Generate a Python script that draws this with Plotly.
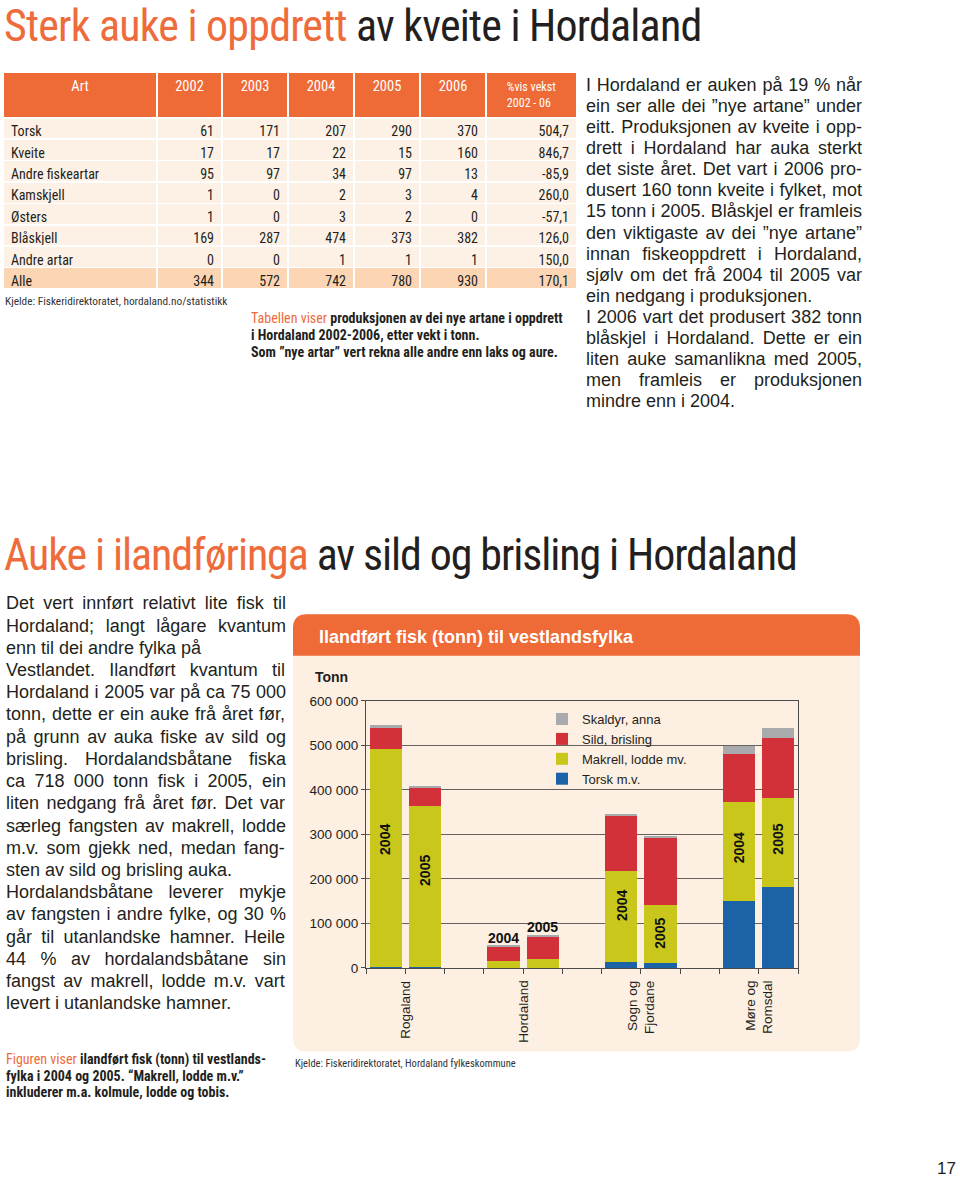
import plotly.graph_objects as go

W, H = 960, 1185
ORANGE = "#EE6A36"
TXT = "#231F20"
BODY = "Liberation Sans, Arial, Helvetica, sans-serif"
NARROW = "Roboto Condensed, Open Sans Condensed, DejaVu Sans Condensed, sans-serif"

# ---------------- table data ----------------
arter = ["Torsk", "Kveite", "Andre fiskeartar", "Kamskjell", "Østers",
         "Blåskjell", "Andre artar", "Alle"]
aar_tabell = ["2002", "2003", "2004", "2005", "2006"]
v2002 = [61, 17, 95, 1, 1, 169, 0, 344]
v2003 = [171, 17, 97, 0, 0, 287, 0, 572]
v2004 = [207, 22, 34, 2, 3, 474, 1, 742]
v2005 = [290, 15, 97, 3, 2, 373, 1, 780]
v2006 = [370, 160, 13, 4, 0, 382, 1, 930]
vekst = [504.7, 846.7, -85.9, 260.0, -57.1, 126.0, 150.0, 170.1]

# ---------------- chart data (tonn) ----------------
fylke = ["Rogaland", "Hordaland", "Sogn og<br>Fjordane", "Møre og<br>Romsdal"]
aar = ["2004", "2005"]
torsk = [3000, 2000, 1000, 1000, 15000, 12000, 150000, 183000]
makrell = [490000, 362000, 15000, 19000, 203000, 129000, 223000, 200000]
sild = [48000, 41000, 33000, 52000, 125000, 152000, 108000, 135000]
skaldyr = [4000, 3000, 3000, 3000, 4000, 3000, 19000, 21000]
y_ticks = [0, 100000, 200000, 300000, 400000, 500000, 600000]


def px(x):
    return x / W


def py(y):
    return 1 - y / H


# Arial / Liberation Sans advance widths (1/1000 em) for justification
AW = {" ": 278, "!": 278, '"': 355, "%": 889, "(": 333, ")": 333, ",": 278, "-": 333,
      ".": 278, ":": 278, ";": 278, "”": 333, "“": 333,
      "A": 667, "B": 667, "C": 722, "D": 722, "E": 667, "F": 611, "G": 778, "H": 722,
      "I": 278, "J": 500, "K": 667, "L": 556, "M": 833, "N": 722, "O": 778, "P": 667,
      "Q": 778, "R": 722, "S": 667, "T": 611, "U": 722, "V": 667, "W": 944, "X": 667,
      "Y": 667, "Z": 611, "Ø": 778, "Å": 667, "Æ": 1000,
      "a": 556, "b": 556, "c": 500, "d": 556, "e": 556, "f": 278, "g": 556, "h": 556,
      "i": 222, "j": 222, "k": 500, "l": 222, "m": 833, "n": 556, "o": 556, "p": 556,
      "q": 556, "r": 333, "s": 500, "t": 278, "u": 556, "v": 500, "w": 722, "x": 500,
      "y": 500, "z": 500, "å": 556, "ø": 611, "æ": 889}
for d in "0123456789":
    AW[d] = 556


def justify(s, size, target):
    nat = sum(AW.get(c, 556) for c in s) / 1000 * size
    n = s.count(" ")
    if n == 0:
        return s
    ws = (target - nat) / n
    return f'<span style="word-spacing:{ws:.2f}px">{s}</span>'


fig = go.Figure()

# ---------------- table ----------------
fmt = lambda v: f"{v:.1f}".replace(".", ",")
row_fill = ["#FDF1E6"] * 7 + ["#FBD5B4"]
fig.add_trace(go.Table(
    domain=dict(x=[px(3), px(577)], y=[py(292), py(66)]),
    columnwidth=[154, 65, 66, 66, 66, 66, 91],
    header=dict(
        values=["Art"] + aar_tabell + ["%vis vekst<br>2002 - 06"],
        fill_color=ORANGE, line=dict(color="white", width=1.5),
        align="center", height=40,
        font=dict(family=NARROW, size=[14.5] * 6 + [12], color="white")),
    cells=dict(
        values=[arter, v2002, v2003, v2004, v2005, v2006, [fmt(v) for v in vekst]],
        fill_color=[row_fill] * 7, line=dict(color="white", width=1.5),
        align=["left"] + ["right"] * 6, height=21.4,
        font=dict(family=NARROW, size=14, color=TXT)),
))

# ---------------- bars ----------------
positions = [3 * i + j for i in range(len(fylke)) for j in range(len(aar))]
labels = [f"{f.replace('<br>', ' ')} {a}" for f in fylke for a in aar]
series = [
    ("Torsk m.v.", torsk, "#1B62A7"),
    ("Makrell, lodde mv.", makrell, "#C9C71C"),
    ("Sild, brisling", sild, "#D3313A"),
    ("Skaldyr, anna", skaldyr, "#A8AAAD"),
]
for name, vals, col in series:
    fig.add_trace(go.Bar(
        x=positions, y=vals, name=name, width=0.82,
        marker=dict(color=col, line=dict(width=0)),
        customdata=labels,
        hovertemplate="%{customdata}<br>" + name + ": %{y:,}<extra></extra>",
    ))

ann = []


def line(x, y, text, size, color=TXT, family=BODY, xanchor="left", yanchor="middle"):
    ann.append(dict(x=px(x), y=py(y), xref="paper", yref="paper", text=text,
                    showarrow=False, xanchor=xanchor, yanchor=yanchor,
                    font=dict(size=size, color=color, family=family)))


OR = '<span style="color:#EE6B3B">'

# titles
line(2, 19, '<span style="letter-spacing:-0.8px">' + OR +
     "Sterk auke i oppdrett</span> av kveite i Hordaland</span>", 44, "#231F20", NARROW)
line(2, 555, '<span style="letter-spacing:-1.1px">' + OR +
     "Auke i ilandføringa</span> av sild og brisling i Hordaland</span>", 44, "#231F20", NARROW)

# table source + caption
line(3, 298, "Kjelde: Fiskeridirektoratet, hordaland.no/statistikk", 11.3, "#333333", NARROW)
cap1 = [OR + "Tabellen viser</span> <b>produksjonen av dei nye artane i oppdrett</b>",
        "<b>i Hordaland 2002-2006, etter vekt i tonn.</b>",
        "<b>Som ”nye artar” vert rekna alle andre enn laks og aure.</b>"]
for k, t in enumerate(cap1):
    line(249, 315 + 17 * k, t, 14, TXT, NARROW)

# right text block (justified)
right_lines = [
    "I Hordaland er auken på 19 % når",
    "ein ser alle dei ”nye artane” under",
    "eitt. Produksjonen av kveite i opp-",
    "drett i Hordaland har auka sterkt",
    "det siste året. Det vart i 2006 pro-",
    "dusert 160 tonn kveite i fylket, mot",
    "15 tonn i 2005. Blåskjel er framleis",
    "den viktigaste av dei ”nye artane”",
    "innan fiskeoppdrett i Hordaland,",
    "sjølv om det frå 2004 til 2005 var",
    "ein nedgang i produksjonen.",
    "I 2006 vart det produsert 382 tonn",
    "blåskjel i Hordaland. Dette er ein",
    "liten auke samanlikna med 2005,",
    "men framleis er produksjonen",
    "mindre enn i 2004.",
]
right_ragged = {10, 15}
for k, t in enumerate(right_lines):
    txt = t if k in right_ragged else justify(t, 18, 860 - 584)
    line(584, 79 + 21.35 * k, txt, 18)

# left text block (justified)
left_lines = [
    "Det vert innført relativt lite fisk til",
    "Hordaland; langt lågare kvantum",
    "enn til dei andre fylka på",
    "Vestlandet. Ilandført kvantum til",
    "Hordaland i 2005 var på ca 75 000",
    "tonn, dette er ein auke frå året før,",
    "på grunn av auka fiske av sild og",
    "brisling. Hordalandsbåtane fiska",
    "ca 718 000 tonn fisk i 2005, ein",
    "liten nedgang frå året før. Det var",
    "særleg fangsten av makrell, lodde",
    "m.v. som gjekk ned, medan fang-",
    "sten av sild og brisling auka.",
    "Hordalandsbåtane leverer mykje",
    "av fangsten i andre fylke, og 30 %",
    "går til utanlandske hamner. Heile",
    "44 % av hordalandsbåtane sin",
    "fangst av makrell, lodde m.v. vart",
    "levert i utanlandske hamner.",
]
left_ragged = {2, 12, 18}
for k, t in enumerate(left_lines):
    txt = t if k in left_ragged else justify(t, 18, 284 - 4)
    line(4, 604 + 22.5 * k, txt, 18)

# figure caption + source
cap2 = [OR + "Figuren viser</span> <b>ilandført fisk (tonn) til vestlands-</b>",
        "<b>fylka i 2004 og 2005. “Makrell, lodde m.v.”</b>",
        "<b>inkluderer m.a. kolmule, lodde og tobis.</b>"]
for k, t in enumerate(cap2):
    line(4, 1066 + 16.5 * k, t, 14, TXT, NARROW)
line(293, 1070, "Kjelde: Fiskeridirektoratet, Hordaland fylkeskommune", 10.5, "#333333", NARROW)
line(958, 1176, "17", 17, TXT, BODY, xanchor="right")

# chart panel texts
line(317, 638, "<b>Ilandført fisk (tonn) til vestlandsfylka</b>", 18, "white")
line(313, 679, "<b>Tonn</b>", 14)

# year labels on bars
year_label_y = [289000, 220000, 68000, 92000, 140000, 78000, 269000, 289000]
for idx, (p, yy) in enumerate(zip(positions, year_label_y)):
    region = idx // 2
    rotated = region != 1
    ann.append(dict(x=p, y=yy, xref="x", yref="y", text="<b>" + aar[idx % 2] + "</b>",
                    showarrow=False, textangle=-90 if rotated else 0,
                    font=dict(size=14, color="#111111", family=BODY)))

# category labels
for i, f in enumerate(fylke):
    ann.append(dict(x=3 * i + 0.5, y=py(984), xref="x", yref="paper", text=f,
                    showarrow=False, textangle=-90, xanchor="center", yanchor="top",
                    align="right", font=dict(size=13.5, color=TXT, family=BODY)))


def rrect(x0, y0, x1, y1, r, bottom_round=True):
    P = lambda x, y: f"{px(x):.5f},{py(y):.5f}"
    d = f"M{P(x0 + r, y0)} L{P(x1 - r, y0)} Q{P(x1, y0)} {P(x1, y0 + r)} "
    if bottom_round:
        d += (f"L{P(x1, y1 - r)} Q{P(x1, y1)} {P(x1 - r, y1)} "
              f"L{P(x0 + r, y1)} Q{P(x0, y1)} {P(x0, y1 - r)} ")
    else:
        d += f"L{P(x1, y1)} L{P(x0, y1)} "
    d += f"L{P(x0, y0 + r)} Q{P(x0, y0)} {P(x0 + r, y0)} Z"
    return d


shapes = [
    dict(type="path", xref="paper", yref="paper", path=rrect(293, 615, 860, 1058, 14),
         fillcolor="#FDEFE1", line=dict(width=0), layer="below"),
    dict(type="path", xref="paper", yref="paper", path=rrect(293, 615, 860, 657, 14, False),
         fillcolor=ORANGE, line=dict(width=0), layer="below"),
]

AX = "#4A4A4A"
fig.update_layout(
    width=W, height=H, margin=dict(l=0, r=0, t=0, b=0),
    paper_bgcolor="white", plot_bgcolor="rgba(0,0,0,0)",
    separators=", ",
    barmode="stack", bargap=0,
    showlegend=True,
    legend=dict(x=px(542), y=py(706), xanchor="left", yanchor="top",
                traceorder="reversed", bgcolor="rgba(0,0,0,0)",
                font=dict(size=13, color=TXT, family=BODY)),
    xaxis=dict(domain=[px(366), px(798)], range=[-0.5, 10.5],
               tickvals=[k - 0.5 for k in range(12)], ticks="outside", ticklen=5,
               tickcolor=AX, showticklabels=False, showline=True, linecolor=AX,
               linewidth=1.2, mirror=True, showgrid=False, zeroline=False),
    yaxis=dict(domain=[py(973.3), py(702.7)], range=[0, 600000], tickvals=y_ticks,
               tickformat=",", ticks="outside", ticklen=4, tickcolor=AX,
               showgrid=True, gridcolor="#66615C", gridwidth=1,
               showline=True, linecolor=AX, linewidth=1.2, mirror=True, zeroline=False,
               tickfont=dict(size=13.5, color=TXT, family=BODY)),
    annotations=ann, shapes=shapes,
)

fig.write_html("out.html", post_script="document.body.style.margin='0';",
               config={"displayModeBar": False})
